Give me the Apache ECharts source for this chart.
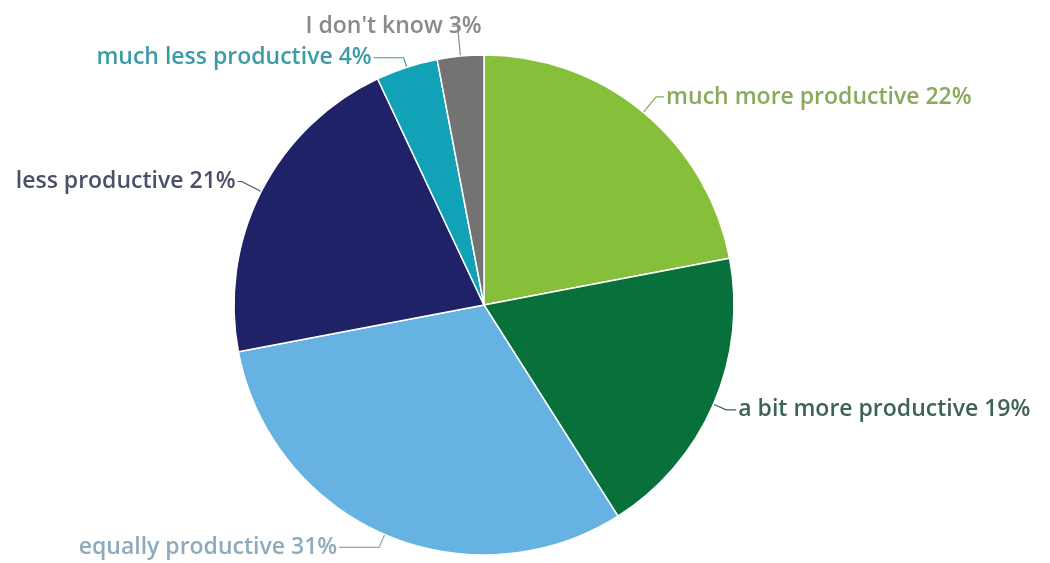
<!DOCTYPE html>
<html>
<head>
<meta charset="utf-8">
<script src="https://cdn.jsdelivr.net/npm/echarts@6/dist/echarts.min.js"></script>
<style>html,body{margin:0;padding:0;background:#fff;}#c{width:1050px;height:563px;}</style>
</head>
<body>
<div id="c"></div>
<script>
const categories = ["much more productive", "a bit more productive", "equally productive", "less productive", "much less productive", "I don't know"];
const values = [22, 19, 31, 21, 4, 3];
const sliceColors = ["#86bf3a", "#08703a", "#66b2e3", "#1f2266", "#12a2b8", "#737373"];
const labelColors = ["#8aa95a", "#3e6352", "#8eaabd", "#4b5068", "#3d9ba8", "#8a8a8a"];
const lineLen = [20, 14, 14, 22, 10, 30];
const lineLen2 = [8, 10, 40, 4, 30, 6];

const chart = echarts.init(document.getElementById('c'), null, {renderer: 'canvas'});
chart.setOption({
  animation: false,
  backgroundColor: '#ffffff',
  series: [{
    type: 'pie',
    center: [484, 305],
    radius: 250,
    startAngle: 90,
    clockwise: true,
    data: categories.map((n, i) => ({
      name: n,
      value: values[i],
      itemStyle: {color: sliceColors[i]},
      label: {color: labelColors[i]},
      labelLine: {length: lineLen[i], length2: lineLen2[i], lineStyle: {color: labelColors[i]}}
    })),
    itemStyle: {borderColor: '#ffffff', borderWidth: 1.5},
    label: {
      show: true,
      formatter: '{b} {c}%',
      fontFamily: 'Open Sans',
      fontSize: 23,
      fontWeight: 600,
      overflow: 'none',
      distanceToLabelLine: 2
    },
    labelLine: {show: true, lineStyle: {width: 1.2}},
    labelLayout: function (p) {
      return p.dataIndex === 5 ? {dx: 32} : {};
    }
  }]
});
</script>
</body>
</html>
